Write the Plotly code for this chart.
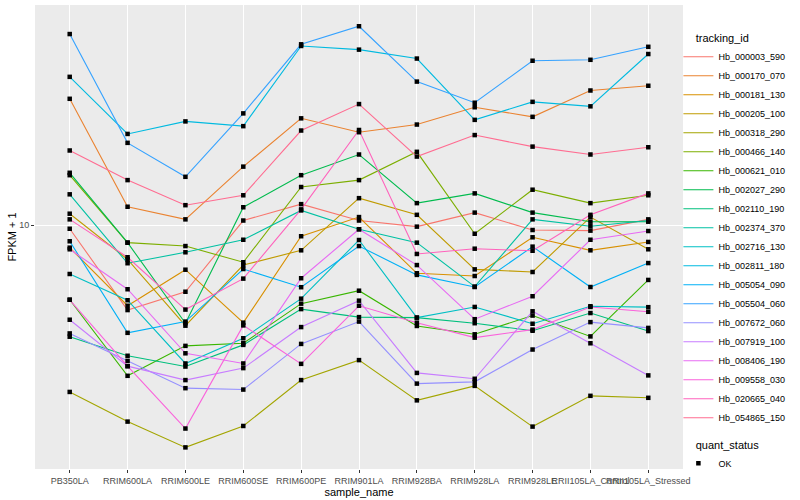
import plotly.graph_objects as go

# ---- data (FPKM + 1) ----
samples = ["PB350LA", "RRIM600LA", "RRIM600LE", "RRIM600SE", "RRIM600PE", "RRIM901LA",
           "RRIM928BA", "RRIM928LA", "RRIM928LE", "RRII105LA_Control", "RRII105LA_Stressed"]

hb_000003_590 = [9.72, 4.98, 5.79, 10.4, 11.9, 10.4, 9.89, 11.1, 9.62, 9.57, 10.5]
hb_000170_070 = [28.3, 11.65, 10.5, 16.2, 24.1, 21.5, 22.9, 26.4, 24.4, 30.3, 31.5]
hb_000181_130 = [8.32, 5.16, 6.94, 4.49, 9.14, 10.7, 6.74, 6.59, 9.06, 8.14, 8.72]
hb_000205_100 = [11.0, 7.56, 4.38, 7.21, 8.14, 12.5, 10.9, 6.96, 6.81, 10.7, 8.21]
hb_000318_290 = [2.54, 1.99, 1.61, 1.92, 2.80, 3.30, 2.37, 2.67, 1.91, 2.46, 2.42]
hb_000466_140 = [15.1, 8.67, 8.43, 7.38, 13.7, 14.5, 18.3, 9.33, 13.4, 12.0, 12.8]
hb_000621_010 = [5.42, 2.90, 3.71, 3.79, 5.25, 5.84, 4.37, 4.08, 4.76, 4.01, 6.38]
hb_002027_290 = [15.4, 8.67, 4.47, 11.6, 15.1, 17.9, 12.0, 13.0, 11.1, 10.3, 10.3]
hb_002110_190 = [4.00, 3.42, 3.13, 3.74, 5.02, 4.70, 4.68, 4.47, 4.20, 4.86, 4.19]
hb_002374_370 = [12.9, 7.32, 8.01, 8.88, 11.3, 9.68, 8.67, 6.04, 10.5, 9.92, 10.4]
hb_002716_130 = [6.70, 5.40, 3.21, 3.95, 5.47, 8.86, 4.68, 5.11, 4.45, 5.14, 5.10]
hb_002811_180 = [33.9, 21.2, 23.5, 22.6, 43.7, 42.4, 39.4, 23.8, 27.6, 26.6, 40.9]
hb_005054_090 = [8.77, 4.13, 4.53, 6.98, 6.01, 8.43, 6.65, 6.02, 8.39, 6.02, 7.33]
hb_005504_060 = [48.2, 19.7, 14.9, 25.1, 44.3, 51.4, 32.6, 27.4, 38.7, 39.0, 43.4]
hb_007672_060 = [4.11, 3.28, 2.62, 2.59, 3.77, 4.53, 2.72, 2.76, 3.60, 4.51, 4.30]
hb_007919_100 = [4.60, 3.14, 2.80, 3.09, 4.33, 5.38, 2.97, 2.83, 4.93, 3.79, 2.91]
hb_008406_190 = [8.21, 5.91, 3.49, 3.21, 6.47, 9.68, 7.21, 4.62, 5.58, 8.88, 9.54]
hb_009558_030 = [5.42, 3.14, 1.88, 4.39, 3.20, 5.16, 4.49, 3.97, 4.24, 5.11, 4.91]
hb_020665_040 = [10.5, 7.69, 5.00, 6.45, 11.4, 21.9, 7.90, 8.25, 8.11, 10.9, 13.0]
hb_054865_150 = [18.5, 14.5, 11.8, 12.8, 21.8, 27.1, 17.6, 21.0, 19.1, 17.9, 19.0]

tracking_ids = ["Hb_000003_590", "Hb_000170_070", "Hb_000181_130", "Hb_000205_100",
                "Hb_000318_290", "Hb_000466_140", "Hb_000621_010", "Hb_002027_290",
                "Hb_002110_190", "Hb_002374_370", "Hb_002716_130", "Hb_002811_180",
                "Hb_005054_090", "Hb_005504_060", "Hb_007672_060", "Hb_007919_100",
                "Hb_008406_190", "Hb_009558_030", "Hb_020665_040", "Hb_054865_150"]

series = [hb_000003_590, hb_000170_070, hb_000181_130, hb_000205_100, hb_000318_290,
          hb_000466_140, hb_000621_010, hb_002027_290, hb_002110_190, hb_002374_370,
          hb_002716_130, hb_002811_180, hb_005054_090, hb_005504_060, hb_007672_060,
          hb_007919_100, hb_008406_190, hb_009558_030, hb_020665_040, hb_054865_150]

colors = ["#F8766D", "#EA8331", "#D89000", "#C09B00", "#A3A500", "#7CAE00", "#39B600",
          "#00BB4E", "#00BF7D", "#00C1A3", "#00BFC4", "#00BAE0", "#00B0F6", "#35A2FF",
          "#9590FF", "#C77CFF", "#E76BF3", "#FA62DB", "#FF62BC", "#FF6C91"]

quant_status = "OK"

FONT = "Liberation Sans, Arial, sans-serif"
PAD = "\u00a0" * 5

fig = go.Figure()

for name, vals, col in zip(tracking_ids, series, colors):
    fig.add_trace(go.Scatter(x=samples, y=vals, mode="lines", name=name,
                             line=dict(color=col, width=1.1), legend="legend",
                             hoverinfo="skip"))

for i, vals in enumerate(series):
    fig.add_trace(go.Scatter(x=samples, y=vals, mode="markers", name=quant_status,
                             marker=dict(symbol="square", size=4.5, color="black"),
                             legend="legend2", showlegend=(i == 0), hoverinfo="skip"))

fig.update_layout(
    width=800, height=500,
    margin=dict(l=35, r=117, t=5, b=31, autoexpand=False),
    paper_bgcolor="white", plot_bgcolor="#EBEBEB",
    font=dict(family=FONT, size=9, color="black"),
    showlegend=True,
    legend=dict(
        title=dict(text=PAD + "tracking_id", font=dict(size=11, color="black")),
        xref="container", yref="container", x=0.848, y=0.944,
        xanchor="left", yanchor="top", bgcolor="rgba(0,0,0,0)",
        font=dict(size=9, color="black"), tracegroupgap=0, itemwidth=30,
        maxheight=480,
    ),
    legend2=dict(
        title=dict(text=PAD + "quant_status", font=dict(size=11, color="black")),
        xref="container", yref="container", x=0.848, y=0.131,
        xanchor="left", yanchor="top", bgcolor="rgba(0,0,0,0)",
        font=dict(size=9, color="black"), itemwidth=30,
    ),
)

fig.update_xaxes(
    type="category", categoryorder="array", categoryarray=samples,
    range=[-0.6, len(samples) - 0.4],
    showgrid=True, gridcolor="white", gridwidth=1.1,
    ticks="outside", ticklen=3, tickcolor="#333333", tickwidth=1,
    tickangle=0, tickfont=dict(size=9, color="#4D4D4D", family=FONT),
    showline=False, zeroline=False, automargin=False,
    title=dict(text="sample_name", font=dict(size=11, color="black", family=FONT), standoff=1),
)

fig.update_yaxes(
    type="log", range=[0.1296, 1.7868],
    tickmode="array", tickvals=[10], ticktext=["10"],
    showgrid=True, gridcolor="white", gridwidth=1.1,
    ticks="outside", ticklen=3, tickcolor="#333333", tickwidth=1,
    tickfont=dict(size=9, color="#4D4D4D", family=FONT),
    showline=False, zeroline=False, automargin=False,
    title=dict(text="FPKM + 1", font=dict(size=11, color="black", family=FONT), standoff=0),
)

fig.write_html("out.html", config={"displayModeBar": False},
               post_script="document.body.style.margin='0px';document.body.style.padding='0px';")
